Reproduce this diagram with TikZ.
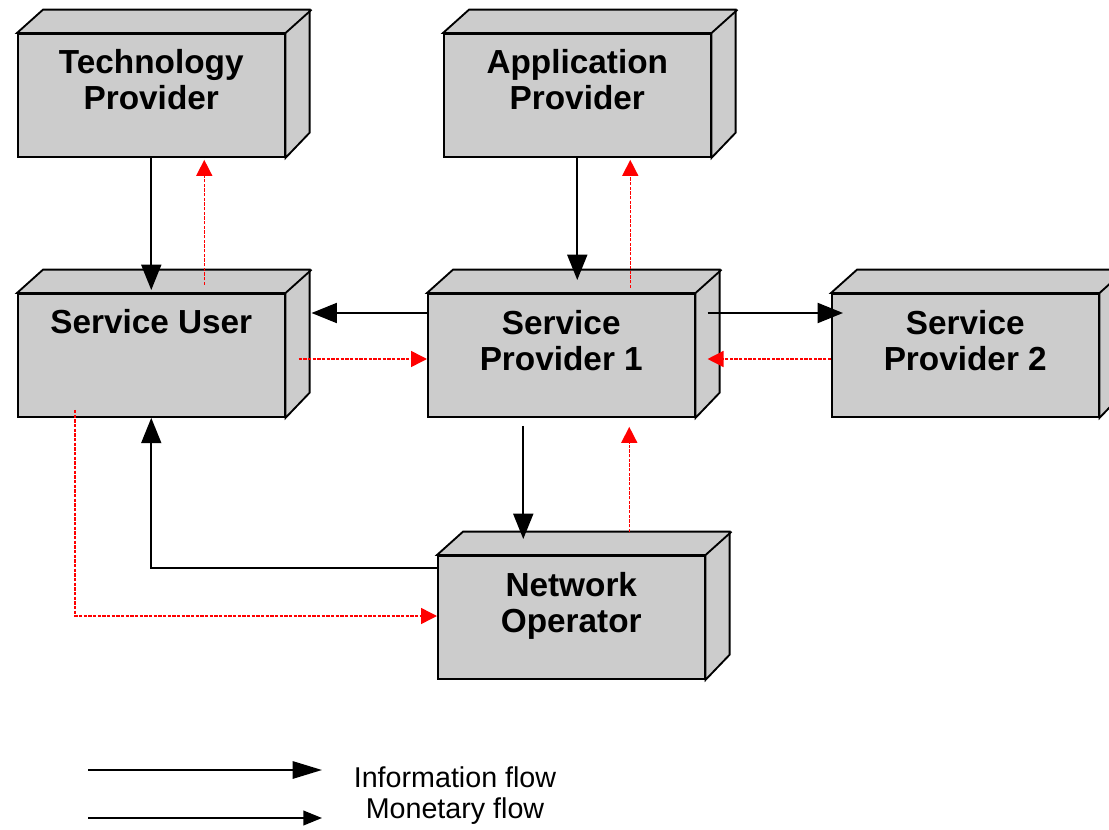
\documentclass[tikz,border=0pt]{standalone}
\usepackage{fontspec}
\setsansfont{Liberation Sans}
\usetikzlibrary{arrows.meta,calc}
\definecolor{boxgrey}{RGB}{204,204,204}

\tikzset{
  front/.style={draw, fill=boxgrey, line width=1.4pt, anchor=north west, inner sep=0pt,
    minimum width=200pt, minimum height=92.25pt},
  face/.style={draw, fill=boxgrey, line width=1.4pt},
  boxlabel/.style={anchor=base, align=center, inner sep=0pt,
    font=\sffamily\bfseries\fontsize{25}{27}\selectfont},
  legendtext/.style={anchor=base, inner sep=0pt, font=\sffamily\fontsize{21.5}{23}\selectfont},
  info/.style={line width=1.4pt, -{Triangle[length=19pt,width=15pt]}},
  money/.style={red, line width=1.1pt, dash pattern=on 2.5pt off 1pt,
    -{Triangle[length=12pt,width=12pt]}},
}

% [baseline of last text line], name, north west corner of the front face, text
\newcommand{\cuboid}[4][77]{
  \node[front] (#2) at (#3) {};
  \draw[face] (#2.north west) -- ++(19.5pt,17.5pt) -- ++(200pt,0pt) -- ++(0pt,-92.25pt)
    -- (#2.south east) -- (#2.north east) -- cycle;
  \draw[face] (#2.north east) -- ++(19.5pt,17.5pt);
  \node[boxlabel] (#2label) at ($(#2.north)+(0,#1)$) {#4};
}

\begin{document}
\begin{tikzpicture}[x=0.75pt,y=-0.75pt]
        \useasboundingbox (0,0) rectangle (1109,830);
        \cuboid{tp}{17,33}{Technology\\Provider}
        \cuboid{ap}{443,33}{Application\\Provider}
        \cuboid[41]{su}{17,293}{Service User}
        \cuboid{sp1}{427,293}{Service\\Provider 1}
        \cuboid{sp2}{831,293}{Service\\Provider 2}
        \cuboid{no}{437,555}{Network\\Operator}
        % information flow
        \draw[info] (tp.south) -- ($(su.north)+(0,-3)$);
        \draw[info] (ap.south) -- ([yshift=9.75pt]ap.south |- sp1.north);
        \draw[info] ($(sp1.north west)+(0,20)$) -- ($(su.north east)+(26,20)$);
        \draw[info] ($(sp1.north east)+(12,20)$) -- ($(sp2.north west)+(12,20)$);
        \draw[info] ($(sp1.south)+(-38,8)$) -- ($(no.north)+(-48,-16)$);
        \draw[info] ($(no.north west)+(0,13)$) -| (su.south);
        % monetary flow
        \draw[money] ($(su.north)+(53,-8)$) -- ($(tp.south)+(53,2)$);
        \draw[money] ($(ap.south)+(53,130)$) -- ($(ap.south)+(53,2)$);
        \draw[money] ($(su.north east)+(13,66)$) -- ($(sp1.north west)+(0,66)$);
        \draw[money] ($(sp2.north west)+(0,66)$) -- ($(sp1.north east)+(12,66)$);
        \draw[money] ($(no.north)+(58,-23)$) -- ($(sp1.south)+(68,9)$);
        \draw[money] ($(su.south west)+(58,-8)$) |- ($(no.north west)+(0,61)$);
        % legend
        \coordinate (i1) at (88,770);
        \coordinate (i2) at (322,770);
        \coordinate (m1) at (88,818);
        \coordinate (m2) at (322,818);
        \draw[line width=1.4pt, -{Triangle[length=22pt,width=13pt]}] (i1) -- (i2);
        \draw[line width=1.4pt, -{Triangle[length=14pt,width=11pt]}] (m1) -- (m2);
        \node[legendtext] (infotext) at (455,787) {Information flow};
        \node[legendtext] (monetext) at (455,818) {Monetary flow};
    \end{tikzpicture}
\end{document}
